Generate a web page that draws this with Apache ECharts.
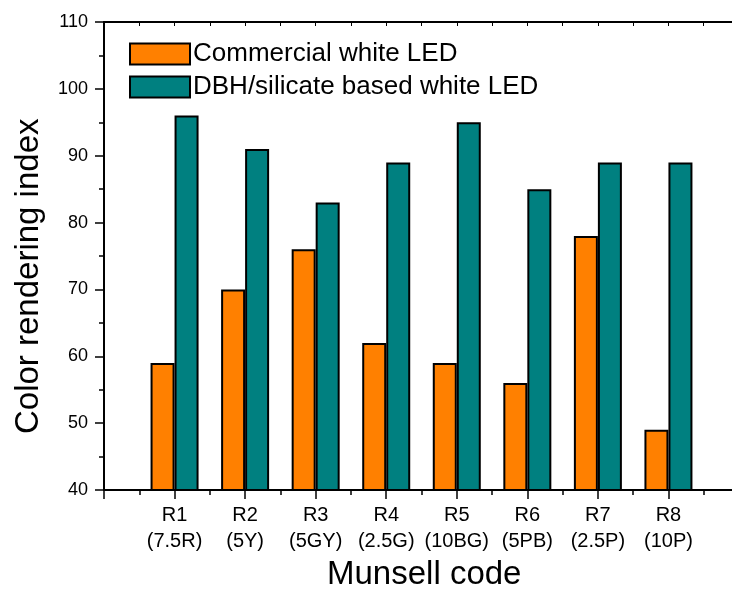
<!DOCTYPE html>
<html><head><meta charset="utf-8">
<script src="https://cdn.jsdelivr.net/npm/echarts@6/dist/echarts.min.js"></script>
<style>html,body{margin:0;padding:0;background:#fff;overflow:hidden;width:732px;height:595px}#c{width:742px;height:595px}</style>
</head><body><div id="c"></div>
<script>
const codes = ['R1','R2','R3','R4','R5','R6','R7','R8'];
const munsell = ['(7.5R)','(5Y)','(5GY)','(2.5G)','(10BG)','(5PB)','(2.5P)','(10P)'];
const commercial = [59,70,76,62,59,56,78,49];
const dbh = [96,91,83,89,95,85,89,89];
const seriesNames = ['Commercial white LED','DBH/silicate based white LED'];
const yTicks = [40,50,60,70,80,90,100,110];

const font = 'Liberation Sans, Arial, sans-serif';
const chart = echarts.init(document.getElementById('c'));
const pos = codes.map((c,i)=>i+1);
chart.setOption({
  animation:false,
  grid:{left:104,top:22,bottom:105,right:0,containLabel:false},
  legend:{orient:'vertical',left:124,top:36,itemWidth:60,itemHeight:21,itemGap:7,
    textStyle:{fontFamily:font,fontSize:26,color:'#000',padding:[0,0,0,-2]},
    data:seriesNames.map(n=>({name:n,icon:'rect'}))},
  xAxis:[{type:'value',min:0,max:9,interval:1,position:'bottom',
    axisLine:{lineStyle:{color:'#000',width:2}},
    axisTick:{show:true,length:9,lineStyle:{color:'#000',width:1.5}},
    minorTick:{show:true,splitNumber:2,length:5,lineStyle:{color:'#000',width:1.5}},
    splitLine:{show:false},
    axisLabel:{margin:12,fontFamily:font,fontSize:20,color:'#000',lineHeight:26,
      formatter:v=>{const i=Math.round(v)-1;return (i>=0&&i<codes.length&&Math.abs(v-Math.round(v))<1e-6)?codes[i]+'\n'+munsell[i]:'';}}},
   {type:'value',min:0,max:9,interval:0.5,position:'top',
    axisLine:{lineStyle:{color:'#000',width:2}},
    axisTick:{show:true,inside:true,length:4,lineStyle:{color:'#000',width:1}},
    minorTick:{show:false},splitLine:{show:false},axisLabel:{show:false}}],
  yAxis:[{type:'value',min:yTicks[0],max:yTicks[yTicks.length-1],interval:10,
    axisLine:{show:true,lineStyle:{color:'#000',width:2}},
    axisTick:{show:true,length:9,lineStyle:{color:'#000',width:1.5}},
    minorTick:{show:true,splitNumber:2,length:5,lineStyle:{color:'#000',width:1.5}},
    splitLine:{show:false},
    axisLabel:{margin:16,fontFamily:font,fontSize:18,color:'#000'}}],
  graphic:[
    {type:'text',left:327,top:558,style:{text:'Munsell code',font:'33px '+font,fill:'#000'}},
    {type:'text',rotation:Math.PI/2,x:12,y:434,style:{text:'Color rendering index',font:'33px '+font,fill:'#000'}}
  ],
  series:[
    {name:seriesNames[0],type:'bar',barWidth:24,barGap:'0%',
      itemStyle:{color:'#FF8000',borderColor:'#000',borderWidth:2},
      data:commercial.map((v,i)=>[pos[i],v])},
    {name:seriesNames[1],type:'bar',barWidth:24,barGap:'0%',
      itemStyle:{color:'#008080',borderColor:'#000',borderWidth:2},
      data:dbh.map((v,i)=>[pos[i],v])}
  ]
});
</script></body></html>
